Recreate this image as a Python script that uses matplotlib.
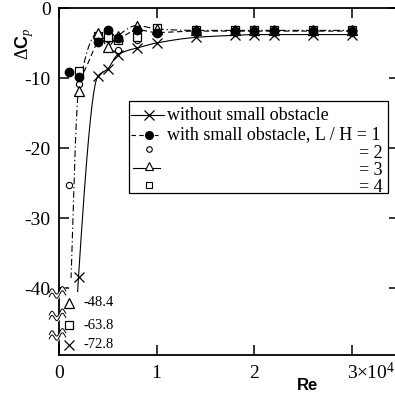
import matplotlib
matplotlib.use("Agg")
import matplotlib.pyplot as plt
from matplotlib.patches import Rectangle
import numpy as np

plt.rcParams["font.family"] = "Liberation Serif"
plt.rcParams["mathtext.fontset"] = "custom"
plt.rcParams["mathtext.rm"] = "Liberation Serif"
plt.rcParams["mathtext.it"] = "Liberation Serif:italic"
plt.rcParams["mathtext.bf"] = "Liberation Sans:bold"

# Re in units of 1e4
re = np.array([0.1, 0.2, 0.4, 0.5, 0.6, 0.8, 1.0, 1.4, 1.8, 2.0, 2.2, 2.6, 3.0])
without = np.array([-72.8, -38.4, -9.7, -8.7, -6.7, -5.7, -5.0, -4.2, -3.9, -3.8, -3.8, -3.8, -3.8])
lh1 = np.array([-9.2, -9.8, -4.8, -3.1, -4.3, -3.1, -3.5, -3.3, -3.3, -3.3, -3.3, -3.3, -3.3])
lh2 = np.array([-25.3, -10.8, -4.6, -4.4, -6.0, -4.6, -3.6, -3.5, -3.5, -3.5, -3.5, -3.5, -3.5])
lh3 = np.array([-48.4, -11.9, -3.6, -5.5, -4.0, -2.5, -3.0, -3.2, -3.2, -3.2, -3.2, -3.2, -3.2])
lh4 = np.array([-63.8, -9.0, -4.0, -4.2, -4.5, -4.1, -2.9, -3.1, -3.2, -3.2, -3.2, -3.2, -3.2])

# off-scale values and where they are drawn below the axis break
broken_vals = [-48.4, -63.8, -72.8]
broken_pos = [-42.1, -45.3, -48.1]
break_y = [-40.7, -43.9, -46.7]


def pchip(x, y, xs):
    h = np.diff(x)
    d = np.diff(y) / h
    m = np.zeros_like(y)
    m[0], m[-1] = d[0], d[-1]
    for k in range(1, len(x) - 1):
        if d[k - 1] * d[k] > 0:
            w1 = 2 * h[k] + h[k - 1]
            w2 = h[k] + 2 * h[k - 1]
            m[k] = (w1 + w2) / (w1 / d[k - 1] + w2 / d[k])
    idx = np.clip(np.searchsorted(x, xs) - 1, 0, len(x) - 2)
    t = (xs - x[idx]) / h[idx]
    h00 = 2 * t**3 - 3 * t**2 + 1
    h10 = t**3 - 2 * t**2 + t
    h01 = -2 * t**3 + 3 * t**2
    h11 = t**3 - t**2
    return h00 * y[idx] + h10 * h[idx] * m[idx] + h01 * y[idx + 1] + h11 * h[idx] * m[idx + 1]


def shown(vals):
    out = vals.astype(float).copy()
    for v, p in zip(broken_vals, broken_pos):
        out[np.isclose(out, v)] = p
    return out


AX_W = 340  # px; right spine falls just outside the picture, as in the original crop
fig = plt.figure(figsize=(3.95, 3.98), dpi=100)
ax = fig.add_axes([59 / 395, 1 - 355 / 398, AX_W / 395, 347 / 398])
ax.set_xlim(0, AX_W / 97.5)
ax.set_ylim(-49.57, 0)

xs = np.linspace(0.1, 3.0, 600)
for vals, ls, cut in [(without, "-", -40.6), (lh1, (0, (5, 3)), -49), (lh3, (0, (6, 2.5, 1.2, 2.5)), -38.6)]:
    line, = ax.plot(xs, pchip(re, vals, xs), color="black", lw=0.8, ls=ls)
    line.set_clip_path(Rectangle((0, cut), 10, 60, transform=ax.transData))

kw = dict(color="black", ls="none", clip_on=False)
ax.plot(re, shown(lh2), marker="o", ms=4.5, mfc="white", mew=0.8, **kw)
ax.plot(re, shown(lh4), marker="s", ms=6, mfc="white", mew=0.9, **kw)
ax.plot(re, shown(lh3), marker="^", ms=7, mfc="white", mew=0.9, **kw)
ax.plot(re, shown(without), marker="x", ms=7, mew=0.9, **kw)
ax.plot(re, shown(lh1), marker="o", ms=6, mfc="black", **kw)

for v, p in zip(broken_vals, broken_pos):
    ax.text(0.25, p, f"{v:.1f}", fontsize=10.5, va="center", ha="left")

# axis break marks
wx = np.linspace(-0.1, 0.07, 40)
for yb in break_y:
    base = yb + (wx + 0.1) * 3.0 - 0.25
    wave = 0.45 * np.sin((wx + 0.1) / 0.17 * 3.2 * np.pi)
    lo, hi = base + wave - 0.3, base + wave + 0.3
    ax.fill_between(wx, lo, hi, color="white", clip_on=False, zorder=4)
    ax.plot(wx, lo, color="black", lw=0.7, clip_on=False, zorder=5)
    ax.plot(wx, hi, color="black", lw=0.7, clip_on=False, zorder=5)

ax.set_xticks([0, 1, 2, 3], labels=["0", "1", "2", "3"])
ax.set_yticks([0, -10, -20, -30, -40], labels=["0", "-10", "-20", "-30", "-40"])
ax.tick_params(direction="in", length=7, width=1.1, labelsize=14, top=True, right=True)
ax.tick_params(axis="x", pad=7)
ax.tick_params(axis="y", pad=6)
for s in ax.spines.values():
    s.set_linewidth(1.3)
ax.annotate(r"$\times10^{4}$", xy=(3, 0), xycoords=("data", "axes fraction"),
            xytext=(5, -18), textcoords="offset pixels", fontsize=14, va="center", ha="left")


def ax_x(px):
    return (px - 59) / AX_W


def ax_y(py):
    return 1 - (py - 8) / 347


# legend drawn by hand: right-aligned "= n" labels
ax.add_patch(Rectangle((ax_x(129), ax_y(193)), ax_x(388) - ax_x(129), ax_y(101) - ax_y(193),
                       transform=ax.transAxes, fill=True, fc="white", ec="black", lw=0.9, zorder=6))

hx0, hx1, hm = ax_x(131), ax_x(164), ax_x(149)
tkw = dict(transform=ax.transAxes, zorder=7, clip_on=False)
ax.plot([hx0, hx1], [ax_y(115)] * 2, color="black", lw=0.8, **tkw)
ax.plot([hm], [ax_y(115)], marker="x", ms=7, mew=0.9, color="black", **tkw)
ax.plot([hx0, ax_x(158)], [ax_y(135)] * 2, color="black", lw=0.8, ls=(0, (4, 3)), **tkw)
ax.plot([hm], [ax_y(135)], marker="o", ms=5.5, color="black", **tkw)
ax.plot([hm], [ax_y(149)], marker="o", ms=4, mfc="white", mew=0.8, color="black", **tkw)
ax.plot([ax_x(133), ax_x(160)], [ax_y(168)] * 2, color="black", lw=0.8, **tkw)
ax.plot([hm], [ax_y(166)], marker="^", ms=6, mfc="white", mew=0.8, color="black", **tkw)
ax.plot([hm], [ax_y(185)], marker="s", ms=5, mfc="white", mew=0.8, color="black", **tkw)

ax.text(ax_x(167), ax_y(115), "without small obstacle", fontsize=13, va="center", ha="left", **tkw)
ax.text(ax_x(167), ax_y(135), "with small obstacle, L / H = 1", fontsize=13, va="center", ha="left", **tkw)
for py, lab in [(153, "= 2"), (170, "= 3"), (187, "= 4")]:
    ax.text(ax_x(383), ax_y(py), lab, fontsize=13, va="center", ha="right", **tkw)

fig.text(25 / 395, 1 - 44 / 398, r"$\Delta\mathbf{C}_{p}$", rotation=90, fontsize=13,
         ha="center", va="center")
fig.text(308 / 395, 1 - 385 / 398, "Re", family="Liberation Sans", weight="bold", fontsize=12,
         ha="center", va="center")

fig.savefig("out.png", dpi=100)
